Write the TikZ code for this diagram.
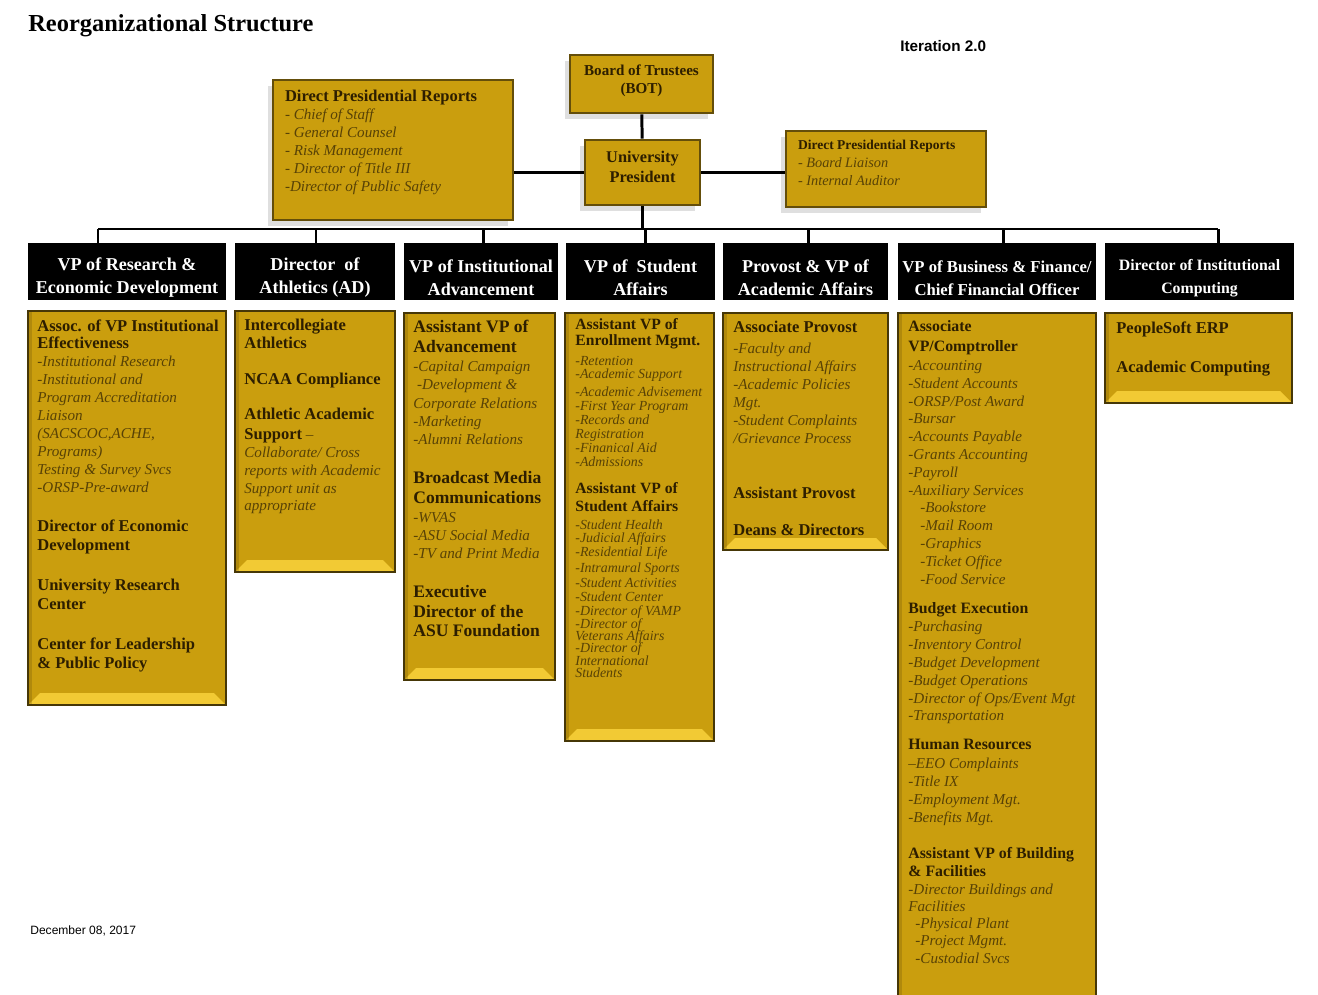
\documentclass[tikz,border=0pt]{standalone}
\usepackage{fontspec}
\setmainfont{Liberation Serif}
\newfontfamily\arialfont{Liberation Sans}
\usetikzlibrary{fit,shadows}

\definecolor{gold}{RGB}{202,158,14}
\definecolor{goldlight}{RGB}{242,202,52}
\definecolor{goldline}{RGB}{100,78,10}
\definecolor{txtdark}{RGB}{45,30,0}
\definecolor{txtit}{RGB}{88,66,6}

\newcommand{\boldline}[2][9.4]{{\fontsize{#1}{#1}\selectfont\upshape\bfseries\color{txtdark}#2}}

\tikzset{
  topbox/.style={draw=goldline, line width=1.5pt, fill=gold, inner sep=0pt,
    drop shadow={shadow xshift=-0.1cm, shadow yshift=-0.12cm, opacity=0.25, fill=gray}},
  colbox/.style={draw=goldline!70!black, line width=1.1pt, fill=gold, inner sep=0pt,
    path picture={
      \fill[goldlight] (path picture bounding box.south west) -- (path picture bounding box.south east)
        -- ([shift={(-0.24cm,0.24cm)}]path picture bounding box.south east)
        -- ([shift={(0.24cm,0.24cm)}]path picture bounding box.south west) -- cycle;
      \fill[goldline, opacity=0.25] (path picture bounding box.north west) rectangle
        ([shift={(0.08cm,0cm)}]path picture bounding box.south west);
    }},
  hdrbox/.style={fill=black, inner sep=0pt},
  hdrtxt/.style={text=white, inner sep=0pt, align=center, yshift=-3.6pt,
    font=\fontsize{10.3}{13}\selectfont\bfseries},
  toptxt/.style={text=txtdark, inner sep=0pt, align=center},
  conn/.style={line width=1.7pt},
  itlist/.style={anchor=north west, inner sep=0pt, align=left, text=txtit,
    font=\fontsize{8.6}{10.2}\selectfont\itshape},
}

\begin{document}
\begin{tikzpicture}[x=0.02cm, y=-0.02cm]
  \useasboundingbox (0,0) rectangle (1318,994);

  %%% title and notes
  \node[anchor=west, inner sep=0pt, font=\fontsize{13.9}{16}\selectfont\bfseries] (title) at (28,26) {Reorganizational Structure};
  \node[anchor=west, inner sep=0pt, font=\arialfont\fontsize{8.7}{10}\selectfont\bfseries] (iter) at (900,46) {Iteration 2.0};
  \node[anchor=west, inner sep=0pt, font=\arialfont\fontsize{6.85}{8}\selectfont] (date) at (30,931) {December 08, 2017};

  %%% top of the chart
  \node[topbox, fit={(570,55) (713,113)}] (bot) {};
  \node[topbox, fit={(585,140) (700,205)}] (pres) {};
  \node[topbox, fit={(273,80) (513,220)}] (dprl) {};
  \node[topbox, fit={(786,131) (986,207)}] (dprr) {};
  \node[toptxt, font=\fontsize{8.6}{10.2}\selectfont\bfseries] (bottxt) at (641.5,81) {Board of Trustees\\(BOT)};
  \node[toptxt, font=\fontsize{9.3}{11.3}\selectfont\bfseries] (prestxt) at (642.5,167) {University\\President};

  \node[itlist] (dprltxt) at ([shift={(13,11)}]dprl.north west) {%
    \boldline{Direct Presidential Reports}\\
    - Chief of Staff\\
    - General Counsel\\
    - Risk Management\\
    - Director of Title III\\
    -Director of Public Safety};
  \node[itlist, font=\fontsize{8.15}{10.4}\selectfont\itshape] (dprrtxt) at ([shift={(13,10)}]dprr.north west) {%
    \boldline[7.7]{Direct Presidential Reports}\\
    - Board Liaison\\
    - Internal Auditor};

  \draw[conn] (bot) -- (pres);
  \draw[conn] (pres.west) -- (pres.west -| dprl.east);
  \draw[conn] (pres.east) -- (pres.east -| dprr.west);

  %%% header bars
  \node[hdrbox, fit={(28,243) (226,300)}] (h1) {};
  \node[hdrbox, fit={(235,243) (395,300)}] (h2) {};
  \node[hdrbox, fit={(404,243) (558,300)}] (h3) {};
  \node[hdrbox, fit={(566,243) (715,300)}] (h4) {};
  \node[hdrbox, fit={(723,243) (888,300)}] (h5) {};
  \node[hdrbox, fit={(898,243) (1096,300)}] (h6) {};
  \node[hdrbox, fit={(1105,243) (1294,300)}] (h7) {};
  \node[hdrtxt] (h1txt) at (h1) {VP of Research \&\\Economic Development};
  \node[hdrtxt] (h2txt) at (h2) {Director\ \ of\\Athletics (AD)};
  \node[hdrtxt] (h3txt) at (h3) {VP of Institutional\\Advancement};
  \node[hdrtxt] (h4txt) at (h4) {VP of\ \ Student\\Affairs};
  \node[hdrtxt] (h5txt) at (h5) {Provost \& VP of\\Academic Affairs};
  \node[hdrtxt, font=\fontsize{9.5}{13}\selectfont\bfseries] (h6txt) at (h6) {VP of Business \& Finance/\\Chief Financial Officer};
  \node[hdrtxt, font=\fontsize{9}{13}\selectfont\bfseries] (h7txt) at (h7) {Director of Institutional\\Computing};

  %%% bus
  \foreach \n/\x in {1/98,2/316,3/483,4/645,5/808,6/1003,7/1218}
    \coordinate (d\n) at (\x,229);
  \draw[conn] (d1) -- (d7);
  \draw[conn] (pres.south) -- (pres.south |- d1);
  \foreach \n in {1,...,7}
    \draw[conn] (d\n) -- (h\n.north -| d\n);

  %%% column boxes
  \node[colbox, fit={(28,311) (226,705)}] (b1) {};
  \node[colbox, fit={(235,311) (395,572)}] (b2) {};
  \node[colbox, fit={(404,313) (555,680)}] (b3) {};
  \node[colbox, fit={(565,313) (714,741)}] (b4) {};
  \node[colbox, fit={(723,313) (888,550)}] (b5) {};
  \node[colbox, fit={(898,313) (1096,1012)}] (b6) {};
  \node[colbox, fit={(1105,313) (1292,403)}] (b7) {};

  \node[itlist] (t1) at ([shift={(10,9)}]b1.north west) {%
    \boldline{Assoc. of VP Institutional}\\
    \boldline{Effectiveness}\\
    -Institutional Research\\
    -Institutional and\\
    Program Accreditation\\
    Liaison\\
    (SACSCOC,ACHE,\\
    Programs)\\
    Testing \& Survey Svcs\\
    -ORSP-Pre-award\\[11.9pt]
    \boldline{Director of Economic}\\[1.1pt]
    \boldline{Development}\\[12.5pt]
    \boldline{University Research}\\[0.6pt]
    \boldline{Center}\\[12.5pt]
    \boldline{Center for Leadership}\\[0.6pt]
    \boldline{\& Public Policy}};

  \node[itlist] (t2) at ([shift={(10,9)}]b2.north west) {%
    \boldline{Intercollegiate}\\
    \boldline{Athletics}\\[10.2pt]
    \boldline{NCAA Compliance}\\[9.6pt]
    \boldline{Athletic Academic}\\[1.1pt]
    \boldline{Support} --\\
    Collaborate/ Cross\\
    reports with Academic\\
    Support unit as\\
    appropriate};

  \node[itlist] (t3) at ([shift={(10,8)}]b3.north west) {%
    \boldline[10]{Assistant VP of}\\[1.1pt]
    \boldline[10]{Advancement}\\[0.6pt]
    -Capital Campaign\\
    \ -Development \&\\[0.6pt]
    Corporate Relations\\
    -Marketing\\
    -Alumni Relations\\[12pt]
    \boldline[10]{Broadcast Media}\\[1.1pt]
    \boldline[10]{Communications}\\[0.6pt]
    -WVAS\\
    -ASU Social Media\\
    -TV and Print Media\\[12.5pt]
    \boldline[10]{Executive}\\[1.1pt]
    \boldline[10]{Director of the}\\[0.6pt]
    \boldline[10]{ASU Foundation}};

  \node[itlist, font=\fontsize{7.9}{7.94}\selectfont\itshape] (t4) at ([shift={(11,6)}]b4.north west) {%
    \boldline[8.9]{Assistant VP of}\\[1.1pt]
    \boldline[8.9]{Enrollment Mgmt.}\\[3.4pt]
    -Retention\\[-0.6pt]
    -Academic Support\\[2.8pt]
    -Academic Advisement\\
    -First Year Program\\
    -Records and\\
    Registration\\
    -Finanical Aid\\
    -Admissions\\[7.4pt]
    \boldline[8.9]{Assistant VP of}\\[2.3pt]
    \boldline[8.9]{Student Affairs}\\[2.3pt]
    -Student Health\\[-0.8pt]
    -Judicial Affairs\\
    -Residential Life\\[1.1pt]
    -Intramural Sports\\[1.1pt]
    -Student Activities\\[0pt]
    -Student Center\\[0pt]
    -Director of VAMP\\[-0.9pt]
    -Director of\\[-0.9pt]
    Veterans Affairs\\[-0.9pt]
    -Director of\\[-0.9pt]
    International\\[-0.9pt]
    Students};

  \node[itlist] (t5) at ([shift={(11,9)}]b5.north west) {%
    \boldline{Associate Provost}\\[1.7pt]
    -Faculty and\\
    Instructional Affairs\\
    -Academic Policies\\
    Mgt.\\
    -Student Complaints\\
    /Grievance Process\\[21pt]
    \boldline{Assistant Provost}\\[11.3pt]
    \boldline{Deans \& Directors}};

  \node[itlist] (t6) at ([shift={(11,8)}]b6.north west) {%
    \boldline[9]{Associate}\\[1.1pt]
    \boldline[9]{VP/Comptroller}\\[0.6pt]
    -Accounting\\
    -Student Accounts\\
    -ORSP/Post Award\\
    -Bursar\\
    -Accounts Payable\\
    -Grants Accounting\\
    -Payroll\\
    -Auxiliary Services\\[-0.6pt]
    \hspace*{6.8pt}-Bookstore\\
    \hspace*{6.8pt}-Mail Room\\
    \hspace*{6.8pt}-Graphics\\
    \hspace*{6.8pt}-Ticket Office\\
    \hspace*{6.8pt}-Food Service\\[6.2pt]
    \boldline[9]{Budget Execution}\\[0.6pt]
    -Purchasing\\
    -Inventory Control\\
    -Budget Development\\
    -Budget Operations\\
    -Director of Ops/Event Mgt\\[-0.6pt]
    -Transportation\\[6.2pt]
    \boldline[9]{Human Resources}\\[0.6pt]
    --EEO Complaints\\
    -Title IX\\
    -Employment Mgt.\\
    -Benefits Mgt.\\[10.8pt]
    \boldline[9]{Assistant VP of Building}\\
    \boldline[9]{\& Facilities}\\
    -Director Buildings and\\[-0.6pt]
    Facilities\\[-0.6pt]
    \hspace*{4pt}-Physical Plant\\[-0.6pt]
    \hspace*{4pt}-Project Mgmt.\\
    \hspace*{4pt}-Custodial Svcs};

  \node[itlist] (t7) at ([shift={(12,9)}]b7.north west) {%
    \boldline{PeopleSoft ERP}\\[12.5pt]
    \boldline{Academic Computing}};
\end{tikzpicture}
\end{document}
